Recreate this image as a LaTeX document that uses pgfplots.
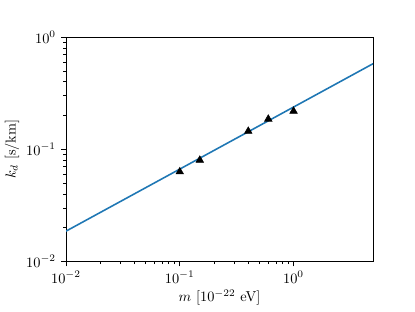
\documentclass[border=0pt]{standalone}
\usepackage{pgfplots}
\pgfplotsset{compat=1.18}
\definecolor{mplblue}{HTML}{1F77B4}
\begin{document}
\begin{tikzpicture}
\path[use as bounding box] (-45.8bp,-34.7bp) rectangle (242.1bp,181.3bp);
\begin{axis}[
  at={(0,0)}, anchor=south west,
  scale only axis, width=213bp, height=155.5bp,
  xmode=log, ymode=log,
  xmin=0.01, xmax=5, ymin=0.01, ymax=1,
  axis line style={line width=0.6pt},
  tick style={black, line width=0.6pt},
  major tick length=3.5pt, minor tick length=2pt,
  tick align=outside,
  xtick pos=bottom, ytick pos=left,
  minor tick style={line width=0.45pt},
  xtick={0.01,0.1,1}, ytick={0.01,0.1,1},
  xlabel={$m$ [$10^{-22}$ eV]},
  ylabel={$k_d$ [s/km]},
  tick label style={font=\normalsize},
  xlabel style={yshift=2pt},
  ylabel style={yshift=-2pt},
]
\addplot[mplblue, line width=1.1pt] coordinates {(0.01,0.0186) (5,0.58)};
\addplot[only marks, mark=triangle*, mark size=3pt, black] coordinates {
(0.1,0.063) (0.15,0.080) (0.4,0.145) (0.6,0.186) (1.0,0.219)};
\end{axis}
\end{tikzpicture}
\end{document}
